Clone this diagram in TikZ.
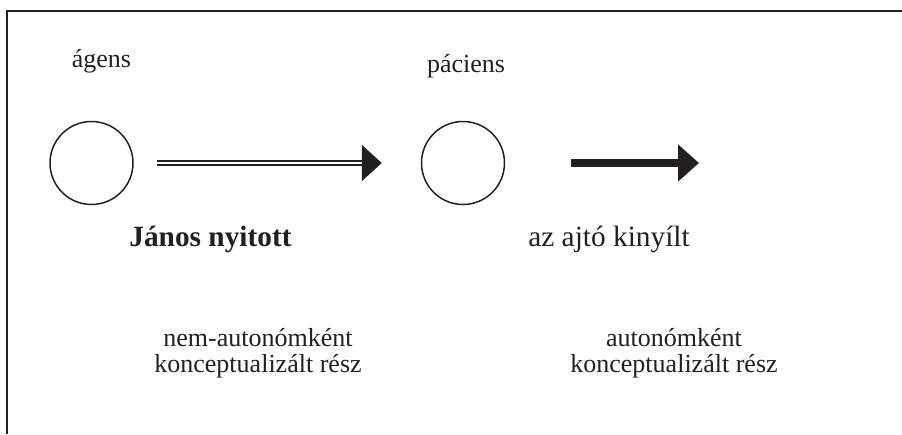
\documentclass[tikz,border=0pt]{standalone}
\usepackage{fontspec}
\setmainfont{Liberation Serif}
\usetikzlibrary{arrows.meta,positioning}
\definecolor{ink}{RGB}{35,31,32}

\begin{document}
\begin{tikzpicture}[font=\fontsize{14.8pt}{15pt}\selectfont, color=ink,
      role/.style={circle, draw, line width=0.85pt, minimum size=1.66cm, inner sep=0pt},
      lbl/.style={inner sep=0pt, anchor=base},
      verb/.style={lbl, font=\fontsize{16.7pt}{18pt}\selectfont},
      part/.style={inner sep=0pt, align=center, anchor=north}]
    \useasboundingbox (0,0) rectangle (18.04,8.68);
    % open frame: left and top edge only
    \draw[line width=1.1pt] (0.14,0) |- (18.04,8.46);

    \node[role] (ag) at (1.83,5.42) {};
    \node[role, right=5.74cm of ag] (pac) {};
    \coordinate (veg) at (13.98,5.42);

    \node[lbl] (agl)  at (2.03,7.32) {ágens};
    \node[lbl] (pacl) at (9.32,7.24) {páciens};
    \node[verb] (jan)  at (4.21,3.75) {\textbf{János nyitott}};
    \node[verb] (ajto) at (12.18,3.75) {az ajtó kinyílt};
    \node[part] (nonaut) at (5.16,2.12) {nem-autonómként\\ konceptualizált rész};
    \node[part] (aut)    at (13.48,2.12) {autonómként\\ konceptualizált rész};

    \draw[-{Triangle[length=0.4cm,width=0.72cm]}, line width=1.1pt, double=white,
          double distance=1.3pt, shorten <=0.46cm, shorten >=0.78cm] (ag) -- (pac);
    \draw[-{Triangle[length=0.42cm,width=0.72cm]}, line width=4pt,
          shorten <=1.32cm] (pac) -- (veg);
  \end{tikzpicture}
\end{document}
